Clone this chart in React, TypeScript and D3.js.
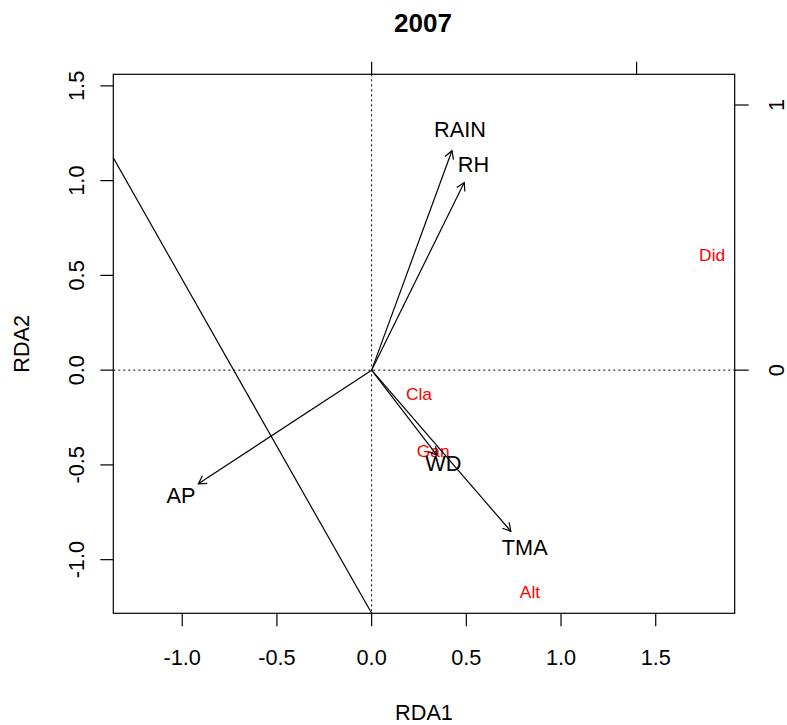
import React from "react";
import * as d3 from "d3";

// Biplot arrows (environmental variables)
const varNames = ["RAIN", "RH", "AP", "WD", "TMA"];
const varX = [0.424, 0.489, -0.915, 0.344, 0.735];
const varY = [1.158, 0.99, -0.6, -0.448, -0.85];

// Species scores (red labels)
const speciesNames = ["Did", "Cla", "Gan", "Alt"];
const speciesX = [1.798, 0.25, 0.325, 0.836];
const speciesY = [0.607, -0.123, -0.426, -1.167];

// Extra straight line (two points)
const lineX = [-1.364, 0.0];
const lineY = [1.12, -1.283];

// Axis ticks
const xTicks = [-1.0, -0.5, 0.0, 0.5, 1.0, 1.5];
const yTicks = [-1.0, -0.5, 0.0, 0.5, 1.0, 1.5];
const secTicks = [0, 1];

const labelMult = 1.1;
const secFactor = 1.399;

const W = 787;
const H = 725;
const L = 113.3, R = 734.7, T = 74.3, B = 613.3;
const FONT = "'Liberation Sans', Arial, Helvetica, sans-serif";

export default function App() {
  const x = d3.scaleLinear().domain([-1.364, 1.917]).range([L, R]);
  const y = d3.scaleLinear().domain([-1.283, 1.561]).range([B, T]);
  const xs = d3.scaleLinear().domain([-1.364 / secFactor, 1.917 / secFactor]).range([L, R]);
  const ys = d3.scaleLinear().domain([-1.283 / secFactor, 1.561 / secFactor]).range([B, T]);
  const fmt = (v: number) => v.toFixed(1);
  const tick = 13;
  const line = d3.line<[number, number]>().x((d) => x(d[0])).y((d) => y(d[1]));
  const linePts: [number, number][] = lineX.map((v, i) => [v, lineY[i]]);

  const arrowHead = (x0: number, y0: number, x1: number, y1: number) => {
    const ang = Math.atan2(y1 - y0, x1 - x0);
    const len = 9;
    const a = Math.PI / 6;
    const p1 = [x1 - len * Math.cos(ang - a), y1 - len * Math.sin(ang - a)];
    const p2 = [x1 - len * Math.cos(ang + a), y1 - len * Math.sin(ang + a)];
    return `M${p1[0]},${p1[1]}L${x1},${y1}L${p2[0]},${p2[1]}`;
  };

  return (
    <svg
      width={W}
      height={H}
      style={{ display: "block", background: "#fff", position: "absolute", left: 0, top: 0 }}
      fontFamily={FONT}
    >
      <defs>
        <clipPath id="plotclip">
          <rect x={L} y={T} width={R - L} height={B - T} />
        </clipPath>
      </defs>
      {/* title */}
      <text x={423} y={22.7} dy="0.36em" textAnchor="middle" fontWeight="bold" fontSize={26}>
        2007
      </text>
      {/* dotted zero lines */}
      <line x1={x(0)} x2={x(0)} y1={T} y2={B} stroke="#000" strokeDasharray="2,3" strokeWidth={1} />
      <line x1={L} x2={R} y1={y(0)} y2={y(0)} stroke="#000" strokeDasharray="2,3" strokeWidth={1} />
      {/* straight line */}
      <path d={line(linePts) || ""} stroke="#000" fill="none" strokeWidth={1.2} clipPath="url(#plotclip)" />
      {/* species */}
      {speciesNames.map((s, i) => (
        <text key={s} x={x(speciesX[i])} y={y(speciesY[i])} dy="0.36em" textAnchor="middle" fontSize={17.4} fill="#FF0000">
          {s}
        </text>
      ))}
      {/* arrows */}
      {varNames.map((v, i) => {
        const x0 = x(0), y0 = y(0), x1 = x(varX[i]), y1 = y(varY[i]);
        return (
          <g key={v}>
            <line x1={x0} y1={y0} x2={x1} y2={y1} stroke="#000" strokeWidth={1.2} />
            <path d={arrowHead(x0, y0, x1, y1)} stroke="#000" fill="none" strokeWidth={1.2} />
            <text x={x(varX[i] * labelMult)} y={y(varY[i] * labelMult)} dy="0.36em" textAnchor="middle" fontSize={21.7} fill="#000">
              {v}
            </text>
          </g>
        );
      })}
      {/* box */}
      <rect x={L} y={T} width={R - L} height={B - T} fill="none" stroke="#000" strokeWidth={1.2} />
      {/* bottom axis */}
      {xTicks.map((t) => (
        <g key={"bx" + t}>
          <line x1={x(t)} x2={x(t)} y1={B} y2={B + tick} stroke="#000" strokeWidth={1.2} />
          <text x={x(t)} y={657} dy="0.36em" textAnchor="middle" fontSize={21.7}>
            {fmt(t)}
          </text>
        </g>
      ))}
      {/* left axis */}
      {yTicks.map((t) => (
        <g key={"ly" + t}>
          <line x1={L - tick} x2={L} y1={y(t)} y2={y(t)} stroke="#000" strokeWidth={1.2} />
          <text transform={`translate(76,${y(t)}) rotate(-90)`} dy="0.36em" textAnchor="middle" fontSize={21.7}>
            {fmt(t)}
          </text>
        </g>
      ))}
      {/* top axis (secondary) */}
      {secTicks.map((t) => (
        <line key={"tx" + t} x1={xs(t)} x2={xs(t)} y1={T} y2={T - 12.5} stroke="#000" strokeWidth={1.2} />
      ))}
      {/* right axis (secondary) */}
      {secTicks.map((t) => (
        <g key={"ry" + t}>
          <line x1={R} x2={R + 14} y1={ys(t)} y2={ys(t)} stroke="#000" strokeWidth={1.2} />
          <text transform={`translate(776,${ys(t)}) rotate(-90)`} dy="0.36em" textAnchor="middle" fontSize={21.7}>
            {String(t)}
          </text>
        </g>
      ))}
      {/* axis titles */}
      <text x={(L + R) / 2} y={712} dy="0.36em" textAnchor="middle" fontSize={21.7}>
        RDA1
      </text>
      <text transform={`translate(21,${(T + B) / 2}) rotate(-90)`} dy="0.36em" textAnchor="middle" fontSize={21.7}>
        RDA2
      </text>
    </svg>
  );
}
